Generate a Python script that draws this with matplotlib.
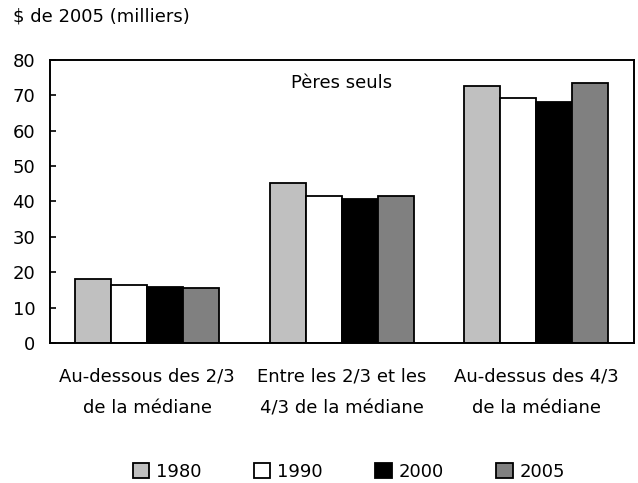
import matplotlib.pyplot as plt
import numpy as np

categories = ["Au-dessous des 2/3\nde la médiane",
              "Entre les 2/3 et les\n4/3 de la médiane",
              "Au-dessus des 4/3\nde la médiane"]
years = ["1980", "1990", "2000", "2005"]
v1980 = [18.0, 45.2, 72.6]
v1990 = [16.4, 41.4, 69.1]
v2000 = [15.8, 40.7, 68.2]
v2005 = [15.6, 41.4, 73.4]
colors = ["#c0c0c0", "#ffffff", "#000000", "#808080"]

plt.rcParams['font.family'] = ['DejaVu Sans']
fs = 13
fig = plt.figure(figsize=(6.38, 4.83), dpi=100)
ax = fig.add_axes([0.078, 0.29, 0.915, 0.586])

x = np.arange(len(categories))
w = 0.185
for i, vals in enumerate([v1980, v1990, v2000, v2005]):
    ax.bar(x + (i - 1.5) * w, vals, w, color=colors[i], edgecolor="black",
           linewidth=1.3, label=years[i])

ax.set_xlim(-0.5, 2.5)
ax.set_ylim(0, 80)
ax.set_yticks(range(0, 81, 10))
ax.set_xticks(x)
ax.set_xticklabels(categories, fontsize=fs, linespacing=1.95)
ax.tick_params(axis='x', length=0, pad=18)
ax.tick_params(axis='y', direction='in', length=4, labelsize=fs, width=1.2, pad=10.5)
for s in ax.spines.values():
    s.set_linewidth(1.4)

ax.text(0.5, 0.92, "Pères seuls", transform=ax.transAxes, ha="center",
        va="center", fontsize=fs)
fig.text(0.02, 0.965, "$ de 2005 (milliers)", fontsize=fs, ha="left", va="center")

fig.legend(loc="center", bbox_to_anchor=(0.547, 0.023), ncol=4, frameon=False,
           fontsize=fs, handlelength=0.9, handleheight=0.9, columnspacing=2.9,
           handletextpad=0.4)

fig.savefig("out.png", dpi=100)
